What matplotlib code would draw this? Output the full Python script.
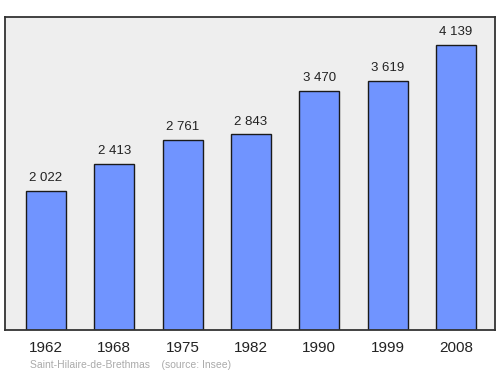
import matplotlib
matplotlib.use("Agg")
import matplotlib.pyplot as plt

plt.rcParams["font.family"] = ["Liberation Sans", "DejaVu Sans"]

years = ["1962", "1968", "1975", "1982", "1990", "1999", "2008"]
population = [2022, 2413, 2761, 2843, 3470, 3619, 4139]
value_labels = ["2 022", "2 413", "2 761", "2 843", "3 470", "3 619", "4 139"]

W, H = 500, 374
fig = plt.figure(figsize=(W/100, H/100), dpi=100)
ax = fig.add_axes([5/W, 1-330/H, 490/W, (330-17)/H])
ax.set_facecolor("#eeeeee")
x = list(range(len(years)))
ax.bar(x, population, width=0.585, color="#7094ff", edgecolor="#1a1a1a", linewidth=1.0, zorder=2)
for xi, v, lab in zip(x, population, value_labels):
    ax.text(xi, v + 100, lab, ha="center", va="bottom", fontsize=9.5, color="#222222")
ax.set_xlim(-0.6, 6.57)
ax.set_ylim(0, 4549)
ax.set_yticks([])
ax.set_xticks(x)
ax.set_xticklabels(years, fontsize=11, color="#222222")
ax.tick_params(axis="x", length=0, pad=8)
for s in ax.spines.values():
    s.set_color("#333333")
    s.set_linewidth(1.3)
fig.text(30/W, 1-365/H, "Saint-Hilaire-de-Brethmas    (source: Insee)", fontsize=7.5, color="#aaaaaa", va="center", ha="left")
fig.savefig("out.png", dpi=100)
